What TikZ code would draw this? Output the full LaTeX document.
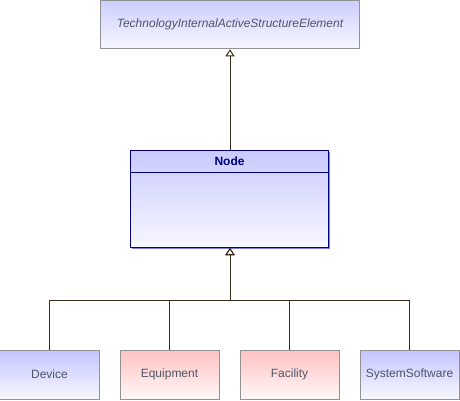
\documentclass[tikz,border=0pt]{standalone}
\usepackage{fontspec}
\setmainfont{Liberation Sans}
\usetikzlibrary{arrows.meta}

\definecolor{boxblue}{RGB}{196,196,255}
\definecolor{boxred}{RGB}{255,194,194}
\definecolor{boxgray}{RGB}{146,146,146}
\definecolor{labelgray}{RGB}{78,86,104}
\definecolor{navyline}{RGB}{0,0,128}
\definecolor{shadowblue}{RGB}{128,128,220}
\definecolor{connector}{RGB}{58,46,26}

\tikzset{
  element/.style={draw=boxgray, line width=1bp, top color=boxblue, bottom color=white!97!blue,
    minimum width=99bp, minimum height=49bp, inner sep=0pt, text=labelgray,
    font=\fontsize{12bp}{14bp}\selectfont},
  redelement/.style={element, top color=boxred, bottom color=white!97!red},
  generalise/.style={draw=connector, line width=1bp,
    -{Triangle[open, width=9bp, length=7bp, fill=white]}},
}

\begin{document}
\begin{tikzpicture}[x=1bp, y=-1bp]
\useasboundingbox (0,0) rectangle (460,400);

% Abstract parent element
\node[element, minimum width=259bp, minimum height=48.5bp, top color=boxblue!85!white,
  font=\fontsize{12bp}{14bp}\selectfont\itshape] (techelem) at (230,24.5)
  {TechnologyInternalActiveStructureElement};

% Node class box with header
\node[draw=navyline, line width=1bp, top color=boxblue!90!white, bottom color=white!97!blue,
  minimum width=198bp, minimum height=97bp, inner sep=0pt,
  preaction={fill=shadowblue, transform canvas={shift={(1.5bp,-1.5bp)}}}] (nodebox) at (229.5,199) {};
\node[draw=navyline, line width=1bp, anchor=north, minimum width=198bp, minimum height=21.5bp,
  inner sep=0pt, text=navyline, font=\fontsize{12bp}{14bp}\selectfont\bfseries] (nodetitle)
  at (nodebox.north) {Node};

% Specialisations
\node[element] (device) at (49.5,374.5) {Device};
\node[redelement] (equipment) at (169.5,374.5) {Equipment};
\node[redelement] (facility) at (289.5,374.5) {Facility};
\node[element] (syssoftware) at (409.5,374.5) {SystemSoftware};

% Generalisation connectors
\coordinate (bus) at (230,300);
\draw[generalise] (nodebox.north -| techelem.south) -- (techelem.south);
\foreach \child in {device, equipment, facility, syssoftware}
  \draw[generalise] (\child.north) |- (bus) -- (bus |- nodebox.south);

\end{tikzpicture}
\end{document}
